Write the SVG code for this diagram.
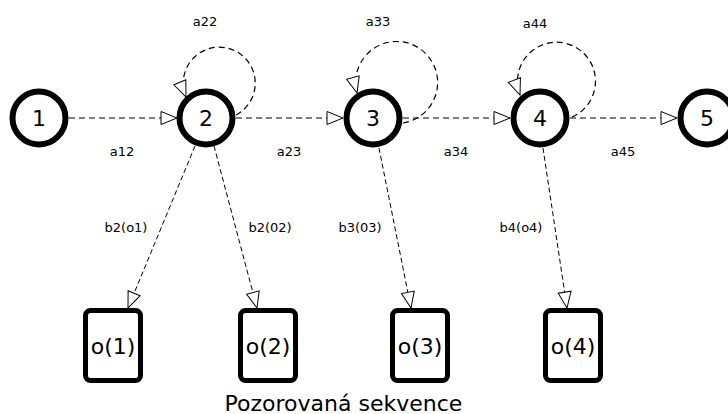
<svg xmlns="http://www.w3.org/2000/svg" width="728" height="414" viewBox="0 0 728 414">
  <style>
    .state { fill: #fff; stroke: #000; stroke-width: 6; }
    .obs { fill: #fff; stroke: #000; stroke-width: 5; }
    .big { font-family: "DejaVu Sans", sans-serif; font-size: 22px; text-anchor: middle; fill: #000; }
    .lbl { font-family: "DejaVu Sans", sans-serif; font-size: 13px; text-anchor: middle; fill: #000; }
    .edge { fill: none; stroke: #000; stroke-width: 1.2; stroke-dasharray: 6 4; marker-end: url(#tri); }
    .emit { fill: none; stroke: #000; stroke-width: 1; stroke-dasharray: 5 3; marker-end: url(#tri); }
  </style>
  <defs>
    <marker id="tri" markerUnits="userSpaceOnUse" markerWidth="18" markerHeight="15" refX="16" refY="6.5" orient="auto" overflow="visible">
      <path d="M0,0 L16,6.5 L0,13 Z" fill="#fff" stroke="#000" stroke-width="1"/>
    </marker>
  </defs>
  <rect width="728" height="414" fill="#fff"/>

  <g id="connectors">
    <!-- transitions between states -->
    <path class="edge" d="M69,118 L177,118"/>
    <path class="edge" d="M236,118 L343,118"/>
    <path class="edge" d="M403,118 L510,118"/>
    <path class="edge" d="M570,118 L677,118"/>
    <!-- self loops -->
    <path class="edge" d="M236,115 A36,36 0 1 0 186,97"/>
    <path class="edge" d="M403,123 A41,41 0 1 0 357,93"/>
    <path class="edge" d="M572,117 A39,39 0 1 0 520,95"/>
    <!-- emissions -->
    <path class="emit" d="M195,146 L128,308"/>
    <path class="emit" d="M214,146 L257,308"/>
    <path class="emit" d="M379,148 L411,308"/>
    <path class="emit" d="M543,148 L567,308"/>
  </g>

  <g id="labels">
    <text class="lbl" x="205" y="26">a22</text>
    <text class="lbl" x="378" y="26">a33</text>
    <text class="lbl" x="535" y="28">a44</text>
    <text class="lbl" x="122" y="156">a12</text>
    <text class="lbl" x="289" y="156">a23</text>
    <text class="lbl" x="456" y="156">a34</text>
    <text class="lbl" x="623" y="156">a45</text>
    <text class="lbl" x="126" y="232">b2(o1)</text>
    <text class="lbl" x="270" y="232">b2(02)</text>
    <text class="lbl" x="360" y="232">b3(03)</text>
    <text class="lbl" x="521" y="232">b4(o4)</text>
  </g>

  <g id="s1"><circle class="state" cx="39" cy="118" r="26.5"/><text class="big" x="39" y="126">1</text></g>
  <g id="s2"><circle class="state" cx="206" cy="118" r="26.5"/><text class="big" x="206" y="126">2</text></g>
  <g id="s3"><circle class="state" cx="373" cy="118" r="26.5"/><text class="big" x="373" y="126">3</text></g>
  <g id="s4"><circle class="state" cx="540" cy="118" r="26.5"/><text class="big" x="540" y="126">4</text></g>
  <g id="s5"><circle class="state" cx="707" cy="118" r="26.5"/><text class="big" x="707" y="126">5</text></g>

  <g id="o1"><rect class="obs" x="85.5" y="310.5" width="55" height="70" rx="5"/><text class="big" x="113" y="354">o(1)</text></g>
  <g id="o2"><rect class="obs" x="240.5" y="310.5" width="55" height="70" rx="5"/><text class="big" x="268" y="354">o(2)</text></g>
  <g id="o3"><rect class="obs" x="392.5" y="310.5" width="55" height="70" rx="5"/><text class="big" x="420" y="354">o(3)</text></g>
  <g id="o4"><rect class="obs" x="545.5" y="310.5" width="55" height="70" rx="5"/><text class="big" x="573" y="354">o(4)</text></g>

  <text id="caption" class="big" x="343.5" y="411">Pozorovaná sekvence</text>
</svg>
